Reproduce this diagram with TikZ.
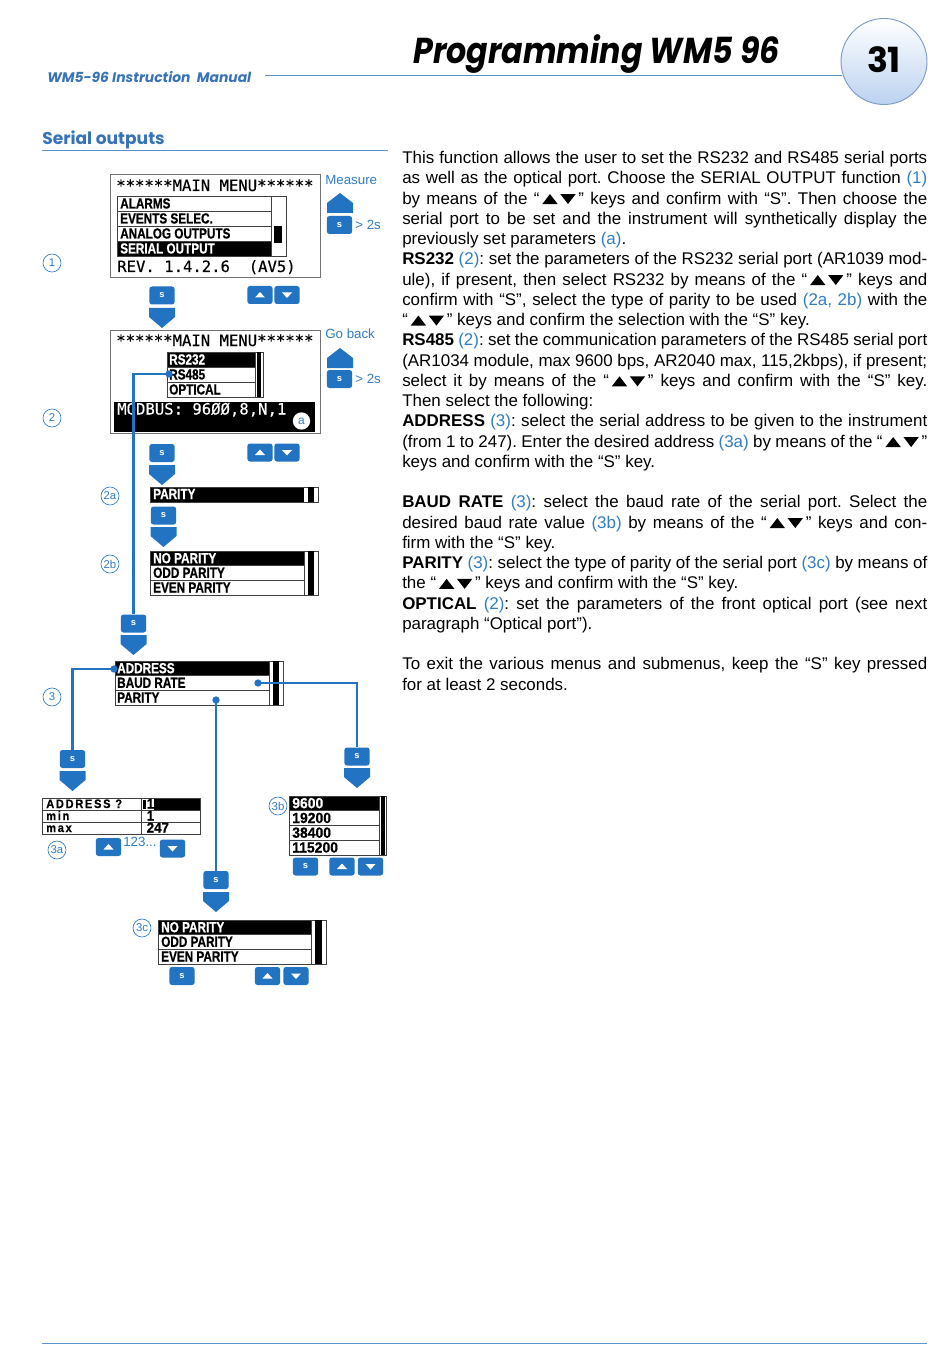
\documentclass[tikz,border=0pt]{standalone}
\usepackage{fontspec}
\setmainfont{Liberation Sans}
\newfontfamily\headfont{Poppins}
\newfontfamily\titlefont[FakeStretch=0.88]{Poppins}
\newfontfamily\lcdfont[FakeStretch=0.8,FakeBold=0.7]{Liberation Sans Bold}
\newfontfamily\lcdwide[FakeStretch=0.95,FakeBold=0.7]{Liberation Sans Bold}
\newfontfamily\lcdsmallfont[FakeStretch=0.9,FakeBold=0.5,LetterSpace=14]{Liberation Sans Bold}
\newfontfamily\monofont[FakeBold=0.4]{DejaVu Sans Mono}
\definecolor{refblue}{RGB}{50,125,195}
\definecolor{btnblue}{RGB}{35,115,195}
\definecolor{headblue}{RGB}{55,115,185}
\definecolor{ruleblue}{RGB}{95,145,205}
\newcommand\rf[1]{\textcolor{refblue}{#1}}
\newcommand\updown{\,\tikz[baseline=0pt,x=1pt,y=1pt]{\fill (0,0)--(11.5,0)--(5.75,7.5)--cycle; \fill (13.5,7.5)--(25,7.5)--(19.25,0)--cycle;}\,}
\newcommand\jl[1]{\hbox to 393.75pt{#1}}
\newcommand\lastline[1]{\hbox{#1}}
\newcommand\dnarrow[2]{\fill[btnblue] (#1-13,#2) -- (#1+13,#2) -- (#1+13,#2+9) -- (#1,#2+20) -- (#1-13,#2+9) -- cycle;}
\newcommand\uparrowshape[2]{\fill[btnblue] (#1-13,#2+20) -- (#1-13,#2+10) -- (#1,#2) -- (#1+13,#2+10) -- (#1+13,#2+20) -- cycle;}
\newcommand\upbtn[3]{\node[btn] (#1) at (#2,#3) {}; \fill[white] (#1.center) ++(-5,2.5) -- ++(10,0) -- ++(-5,-5.5) -- cycle;}
\newcommand\dnbtn[3]{\node[btn] (#1) at (#2,#3) {}; \fill[white] (#1.center) ++(-5,-2.5) -- ++(10,0) -- ++(-5,5.5) -- cycle;}
\begin{document}
\begin{tikzpicture}[x=0.75pt,y=-0.75pt,
  frame/.style={draw=black!55, line width=0.7pt},
  rowline/.style={draw=black!75, line width=0.5pt},
  lcd/.style={font=\lcdfont\fontsize{11}{11}\selectfont, anchor=base west, inner sep=0pt},
  lcdw/.style={lcd, text=white},
  lcdnum/.style={font=\lcdwide\fontsize{11}{11}\selectfont, anchor=base west, inner sep=0pt},
  lcdsmall/.style={font=\lcdsmallfont\fontsize{9.2}{9.2}\selectfont, anchor=base west, inner sep=0pt},
  monotxt/.style={font=\monofont\fontsize{11.7}{12}\selectfont, anchor=base west, inner sep=0pt},
  btn/.style={fill=btnblue, rounded corners=2pt, minimum width=19pt, minimum height=13.5pt, inner sep=0pt, text=white, font=\bfseries\fontsize{7}{7}\selectfont},
  tag/.style={circle, draw=refblue, line width=0.5pt, text=refblue, minimum size=13.5pt, inner sep=0pt, font=\fontsize{8.5}{9}\selectfont},
  conn/.style={draw=btnblue, line width=2.2pt},
  dot/.style={circle, fill=btnblue, inner sep=0pt, minimum size=5.5pt},
  bluetxt/.style={text=refblue, font=\fontsize{10}{12}\selectfont, inner sep=0pt, anchor=west},
  rulel/.style={draw=ruleblue, line width=0.6pt}]
\useasboundingbox (0,0) rectangle (950,1369);
\fill[white] (0,0) rectangle (950,1369);

% ---------- header ----------
\node[anchor=base west, inner sep=0pt, font=\titlefont\bfseries\itshape\fontsize{27}{30}\selectfont] (title) at (413,64) {Programming WM5 96};
\draw[rulel] (265,75) -- (842,75);
\node[anchor=base west, inner sep=0pt, text=headblue, font=\headfont\bfseries\itshape\fontsize{10.4}{12}\selectfont] (manual) at (47,83) {WM5-96 Instruction\ \ Manual};
\shade[top color=white, bottom color={rgb,255:red,188;green,210;blue,240}] (884,61.5) circle (43);
\draw[draw={rgb,255:red,125;green,155;blue,200}, line width=0.7pt] (884,61.5) circle (43);
\node[inner sep=0pt, font=\headfont\bfseries\fontsize{26}{28}\selectfont] (page) at (884,60) {31};
\node[anchor=base west, inner sep=0pt, text=headblue, font=\headfont\bfseries\fontsize{12.8}{15}\selectfont] (sect) at (42,145) {Serial outputs};
\draw[rulel] (42,150) -- (388,150);
\draw[rulel] (42,1343) -- (927,1343);

% ---------- body text ----------
\node[anchor=north west, inner sep=0pt] (body) at (402,151) {\begin{minipage}[t]{393.75pt}%
\fontsize{12.7pt}{15.19pt}\selectfont\frenchspacing\setlength\parindent{0pt}\setlength\parskip{0pt}%
\jl{This function allows the user to set the RS232 and RS485 serial ports}
\jl{as well as the optical port. Choose the SERIAL OUTPUT function \rf{(1)}}
\jl{by means of the “\updown” keys and confirm with “S”. Then choose the}
\jl{serial port to be set and the instrument will synthetically display the}
\lastline{previously set parameters \rf{(a)}.}
\jl{\textbf{RS232} \rf{(2)}: set the parameters of the RS232 serial port (AR1039 mod-}
\jl{ule), if present, then select RS232 by means of the “\updown” keys and}
\jl{confirm with “S”, select the type of parity to be used \rf{(2a, 2b)} with the}
\lastline{“\updown” keys and confirm the selection with the “S” key.}
\jl{\textbf{RS485} \rf{(2)}: set the communication parameters of the RS485 serial port}
\jl{(AR1034 module, max 9600 bps, AR2040 max, 115,2kbps), if present;}
\jl{select it by means of the “\updown” keys and confirm with the “S” key.}
\lastline{Then select the following:}
\jl{\textbf{ADDRESS} \rf{(3)}: select the serial address to be given to the instrument}
\jl{(from 1 to 247). Enter the desired address \rf{(3a)} by means of the “\updown”}
\lastline{keys and confirm with the “S” key.}
\vskip 15.19pt
\jl{\textbf{BAUD RATE} \rf{(3)}: select the baud rate of the serial port. Select the}
\jl{desired baud rate value \rf{(3b)} by means of the “\updown” keys and con-}
\lastline{firm with the “S” key.}
\jl{\textbf{PARITY} \rf{(3)}: select the type of parity of the serial port \rf{(3c)} by means of}
\lastline{the “\updown” keys and confirm with the “S” key.}
\jl{\textbf{OPTICAL} \rf{(2)}: set the parameters of the front optical port (see next}
\lastline{paragraph “Optical port”).}
\vskip 15.19pt
\jl{To exit the various menus and submenus, keep the “S” key pressed}
\lastline{for at least 2 seconds.}
\end{minipage}};

% ---------- tags ----------
\node[tag] (t1) at (52,263) {1};
\node[tag] (t2) at (52,418) {2};
\node[tag] (t2a) at (110,496) {2a};
\node[tag] (t2b) at (110,564) {2b};
\node[tag] (t3) at (52,697) {3};
\node[tag] (t3a) at (57,850) {3a};
\node[tag] (t3b) at (278,806) {3b};
\node[tag] (t3c) at (142,928) {3c};

% ---------- display 1 ----------
\draw[frame] (110,174) rectangle (320,277);
\node[monotxt] (d1t) at (116,191) {******MAIN~MENU******};
\fill[black] (117,241) rectangle (271,256);
\draw[rowline] (117,196) rectangle (286,256);
\draw[rowline] (117,211) -- (271,211) (117,226) -- (271,226) (117,241) -- (271,241) (271,196) -- (271,256);
\fill[black] (274,226) rectangle (282,243);
\node[lcd] (m1) at (120,208.5) {ALARMS};
\node[lcd] (m2) at (120,223.5) {EVENTS SELEC.};
\node[lcd] (m3) at (120,238.5) {ANALOG OUTPUTS};
\node[lcdw] (m4) at (120,253.5) {SERIAL OUTPUT};
\node[monotxt] (d1r) at (117,272) {REV.~1.4.2.6~~(AV5)};
\node[bluetxt] (measure) at (325,180) {Measure};
\uparrowshape{340}{193}
\node[btn] (sm) at (339.5,225) {s};
\node[bluetxt] (gt1) at (355,225) {> 2s};
\node[btn] (s1) at (162,295.5) {s};
\dnarrow{162}{308}
\upbtn{u1}{260}{295}
\dnbtn{v1}{287}{295}

% ---------- display 2 ----------
\draw[frame] (110,330) rectangle (320,433);
\node[monotxt] (d2t) at (116,346) {******MAIN~MENU******};
\fill[black] (167,352) rectangle (255,367);
\draw[rowline] (167,352) rectangle (263,397);
\draw[rowline] (167,367) -- (255,367) (167,382) -- (255,382) (255,352) -- (255,397);
\fill[black] (257,352) rectangle (261,397);
\node[lcdw] (r1) at (169,364.5) {RS232};
\node[lcd] (r2) at (169,379.5) {RS485};
\node[lcd] (r3) at (169,394.5) {OPTICAL};
\fill[black] (114,402) rectangle (315,432);
\node[monotxt, text=white] (modbus) at (117,414.5) {MODBUS:~96ØØ,8,N,1};
\node[circle, fill=white, inner sep=0pt, minimum size=13pt, text=refblue, font=\fontsize{9}{9}\selectfont] (ta) at (301.5,421) {a};
\node[bluetxt] (goback) at (325,334) {Go back};
\uparrowshape{340}{348}
\node[btn] (sg) at (339.5,379) {s};
\node[bluetxt] (gt2) at (355,379) {> 2s};
\node[btn] (s2) at (162,453) {s};
\dnarrow{162}{465}
\upbtn{u2}{260}{452.5}
\dnbtn{v2}{287}{452.5}

% ---------- 2a / 2b ----------
\fill[black] (150,487) rectangle (304,502);
\draw[rowline] (150,487) rectangle (318,502);
\fill[black] (308,487) rectangle (314,502);
\node[lcdw] (par) at (153,499) {PARITY};
\node[btn] (s2a) at (163.5,515.5) {s};
\dnarrow{163.5}{527}
\fill[black] (150,551) rectangle (304,565.67);
\draw[rowline] (150,551) rectangle (318,595);
\draw[rowline] (150,565.67) -- (304,565.67) (150,580.33) -- (304,580.33) (304,551) -- (304,595);
\fill[black] (308,551) rectangle (314,595);
\node[lcdw] (np1) at (153,563.2) {NO PARITY};
\node[lcd] (op1) at (153,577.8) {ODD PARITY};
\node[lcd] (ep1) at (153,592.5) {EVEN PARITY};

% ---------- 3 ----------
\node[btn] (sA) at (133.5,623.5) {s};
\dnarrow{133.5}{635}
\fill[black] (115,661) rectangle (269,675.67);
\draw[rowline] (115,661) rectangle (283,705);
\draw[rowline] (115,675.67) -- (269,675.67) (115,690.33) -- (269,690.33) (269,661) -- (269,705);
\fill[black] (273,661) rectangle (279,705);
\node[lcdw] (addr) at (117,673.2) {ADDRESS};
\node[lcd] (baud) at (117,687.8) {BAUD RATE};
\node[lcd] (prty) at (117,702.5) {PARITY};

% ---------- 3a ----------
\node[btn] (sAddr) at (72.5,759) {s};
\dnarrow{72.5}{771}
\fill[black] (154,798) rectangle (200,810);
\fill[black] (142.5,799.5) rectangle (145.5,808.5);
\draw[rowline] (42,798) rectangle (200,834);
\draw[rowline] (42,810) -- (200,810) (42,822) -- (200,822) (141,798) -- (141,834);
\node[lcdsmall] (aq) at (46,808) {ADDRESS ?};
\node[lcdsmall] (amin) at (46,820) {min};
\node[lcdsmall] (amax) at (46,832) {max};
\node[lcdnum, font=\lcdwide\fontsize{10.5}{10.5}\selectfont] (av1) at (146.5,808.5) {1};
\node[lcdnum, font=\lcdwide\fontsize{10.5}{10.5}\selectfont] (av2) at (146.5,820.5) {1};
\node[lcdnum, font=\lcdwide\fontsize{10.5}{10.5}\selectfont] (av3) at (146.5,832.5) {247};
\upbtn{u3a}{108.5}{847}
\node[bluetxt, anchor=north west] (cnt) at (123,837) {123...};
\dnbtn{v3a}{172.5}{848.5}

% ---------- 3b ----------
\node[btn] (sBaud) at (357,756.5) {s};
\dnarrow{357}{768}
\fill[black] (289,796) rectangle (379,810.75);
\draw[rowline] (289,796) rectangle (386,855);
\draw[rowline] (289,810.75) -- (379,810.75) (289,825.5) -- (379,825.5) (289,840.25) -- (379,840.25) (379,796) -- (379,855);
\fill[black] (381,796) rectangle (384.5,855);
\node[lcdnum, text=white] (b1) at (292,808.2) {9600};
\node[lcdnum] (b2) at (292,823) {19200};
\node[lcdnum] (b3) at (292,837.7) {38400};
\node[lcdnum] (b4) at (292,852.5) {115200};
\node[btn] (sb) at (305.5,866.5) {s};
\upbtn{u3b}{342}{866.5}
\dnbtn{v3b}{370.5}{866.5}

% ---------- 3c ----------
\node[btn] (sPar) at (216,880) {s};
\dnarrow{216}{892}
\fill[black] (158,920) rectangle (311,934.67);
\draw[rowline] (158,920) rectangle (326,964);
\draw[rowline] (158,934.67) -- (311,934.67) (158,949.33) -- (311,949.33) (311,920) -- (311,964);
\fill[black] (315,920) rectangle (322,964);
\node[lcdw] (np2) at (161,932.2) {NO PARITY};
\node[lcd] (op2) at (161,946.8) {ODD PARITY};
\node[lcd] (ep2) at (161,961.5) {EVEN PARITY};
\node[btn] (sc) at (182,976) {s};
\upbtn{u3c}{267.5}{976}
\dnbtn{v3c}{296}{976}

% ---------- connectors ----------
\coordinate (p485) at (169,374);
\coordinate (pAddr) at (114,669);
\coordinate (pBaud) at (258,683);
\coordinate (pPar) at (216,700);
\draw[conn] (p485) -| (sA.north);
\draw[conn] (pAddr) -| (sAddr.north);
\draw[conn] (pBaud) -| (sBaud.north);
\draw[conn] (pPar) -- (sPar.north);
\node[dot] (d485) at (p485) {};
\node[dot] (dAddr) at (pAddr) {};
\node[dot] (dBaud) at (pBaud) {};
\node[dot] (dPar) at (pPar) {};
\end{tikzpicture}
\end{document}
